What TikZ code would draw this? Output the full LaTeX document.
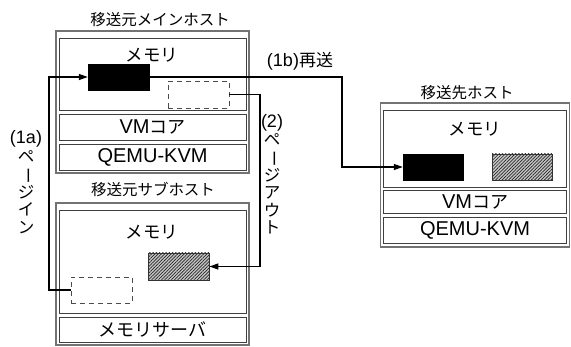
\documentclass[tikz,border=0pt]{standalone}
\usepackage{fontspec}
\setmainfont{Liberation Sans}
\newfontfamily\jp{Noto Sans CJK JP}
\usetikzlibrary{arrows.meta,patterns.meta}
\newcommand{\vbar}{\rotatebox[origin=c]{-90}{ー}}
\begin{document}
\begin{tikzpicture}[x=1pt,y=-1pt,
  outerbox/.style={draw=black!55,line width=1.3pt,inner sep=0pt},
  innerbox/.style={draw=black!75,line width=0.8pt,inner sep=0pt,minimum width=187pt},
  blk/.style={fill=black,draw=black,minimum width=61pt,minimum height=26pt,inner sep=0pt},
  dsh/.style={draw=black!70,dashed,dash pattern=on 5pt off 4pt,line width=0.7pt,minimum width=61pt,minimum height=26pt,inner sep=0pt},
  htch/.style={draw=black!80,line width=0.6pt,preaction={fill=gray!45},pattern={Lines[angle=45,distance=2.3pt,line width=0.7pt]},pattern color=black!85,minimum width=61pt,minimum height=27pt,inner sep=0pt},
  ttl/.style={font=\jp\fontsize{15.5}{17}\selectfont,inner sep=0pt},
  memt/.style={font=\jp\fontsize{17.5}{18}\selectfont,inner sep=0pt},
  boxt/.style={font=\fontsize{20}{21}\selectfont},
  lbl/.style={font=\fontsize{18}{19}\selectfont,inner sep=0pt},
  vlbl/.style={font=\jp\fontsize{16.5}{17.5}\selectfont,align=center,inner sep=0pt},
  arr/.style={line width=1.3pt,-{Triangle[length=9pt,width=6pt]}},
  ln/.style={line width=1.3pt}]
\useasboundingbox (0,0) rectangle (571,347);
% main host
\node[ttl] (tA) at (160,20) {移送元メインホスト};
\node[outerbox,minimum width=193pt,minimum height=142pt] (hostA) at (152.5,102) {};
\node[innerbox,minimum height=72pt] (memA) at (152.5,74) {};
\node[memt] (memtA) at (152,55) {メモリ};
\node[innerbox,minimum height=26pt,boxt] (vmA) at (152.5,127) {VM{\jp\fontsize{18}{19}\selectfont コア}};
\node[innerbox,minimum height=26pt,boxt] (qA) at (152.5,157) {QEMU-KVM};
\node[blk] (blackA) at (118.5,77) {};
\node[dsh,minimum height=27pt] (dashA) at (198.5,94.5) {};
% sub host
\node[ttl] (tB) at (153,189) {移送元サブホスト};
\node[outerbox,minimum width=193pt,minimum height=142pt] (hostB) at (152.5,274) {};
\node[innerbox,minimum height=103pt] (memB) at (152.5,261.5) {};
\node[memt] (memtB) at (152,232) {メモリ};
\node[innerbox,minimum height=25pt,font=\jp\fontsize{18}{19}\selectfont] (srvB) at (152.5,329.5) {メモリサーバ};
\node[htch] (hatchB) at (178.5,266.5) {};
\node[dsh] (dashB) at (101.5,290) {};
% destination host
\node[ttl] (tC) at (467,93) {移送先ホスト};
\node[outerbox,minimum width=189pt,minimum height=144pt] (hostC) at (475,175) {};
\node[innerbox,minimum width=183pt,minimum height=77pt] (memC) at (475,148.5) {};
\node[memt] (memtC) at (475,129) {メモリ};
\node[innerbox,minimum width=183pt,minimum height=23pt,boxt] (vmC) at (475,201.5) {VM{\jp\fontsize{18}{19}\selectfont コア}};
\node[innerbox,minimum width=183pt,minimum height=26pt,boxt] (qC) at (475,230) {QEMU-KVM};
\node[blk,minimum width=60pt] (blackC) at (433,167) {};
\node[htch,minimum width=60pt,minimum height=26pt] (hatchC) at (522,167) {};
% arrows
\coordinate (c1a) at (49,290);
\draw[arr] (dashB.west) -- (c1a) |- (blackA.west);
\coordinate (c1b) at (342,77);
\draw[arr] (blackA.east) -- (c1b) |- (blackC.west);
\coordinate (c2) at (260,94.5);
\draw[arr] (dashA.east) -- (c2) |- (hatchB.east);
% labels
\node[lbl] (l1b) at (300,61) {(1b){\jp\fontsize{17}{18}\selectfont 再送}};
\node[lbl] (l1a) at (26,139) {(1a)};
\node[vlbl,anchor=north] (v1a) at (26,150) {ペ\\\vbar\\ジ\\イ\\ン};
\node[lbl] (l2) at (272,123) {(2)};
\node[vlbl,anchor=north] (v2) at (272,133) {ペ\\\vbar\\ジ\\ア\\ウ\\ト};
\end{tikzpicture}
\end{document}
